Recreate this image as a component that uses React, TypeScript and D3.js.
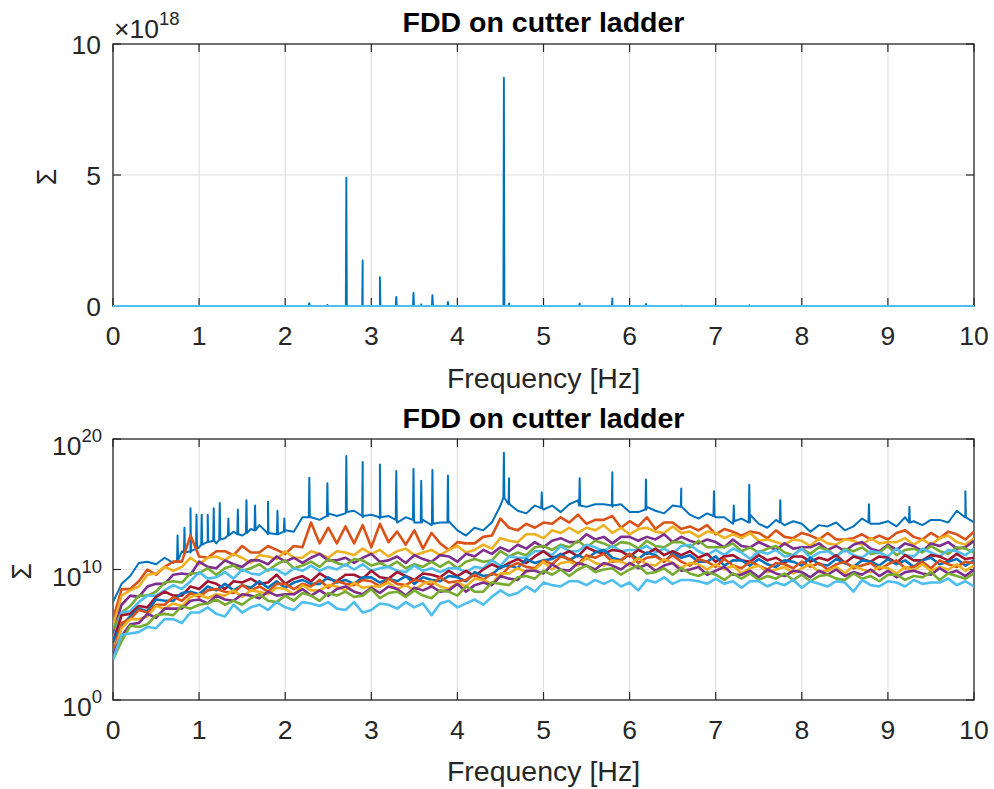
import React from "react";
import * as d3 from "d3";

// Frequency axis: values read every 0.1 Hz from 0 to 10 Hz
const freqStart = 0;
const freqStepHz = 0.1;
const xTicks = [0, 1, 2, 3, 4, 5, 6, 7, 8, 9, 10];
const topYTicks = [0, 5, 10]; // x 10^18
const botYTickExps = [0, 10, 20];

// log10 of singular values
const sv1 = [7.5,8.9,9.5,10.5,10.6,10.4,10.9,10.5,11.4,11.3, 11.7,12.2,12.0,12.4,12.9,12.6,13.1,13.4,12.7,12.7, 13.0,12.9,14.0,14.0,13.8,14.3,14.1,14.3,14.5,14.0, 14.2,13.9,14.1,13.6,14.0,13.6,13.8,13.4,13.6,13.7, 13.0,12.6,13.2,13.0,13.6,14.9,15.2,14.5,14.3,14.9, 14.6,14.9,14.4,15.0,15.3,14.8,15.0,15.0,14.8,15.0, 14.4,14.4,14.8,14.5,14.3,14.9,14.8,14.2,13.9,14.3, 14.0,14.0,13.5,13.9,14.2,13.5,13.2,13.8,13.4,13.7, 13.5,12.9,13.4,13.3,13.6,13.0,13.3,13.9,13.5,13.5, 13.7,13.3,14.0,13.7,13.4,13.8,13.8,13.6,14.5,14.2,13.6];
const sv2 = [6.2,8.5,8.5,9.1,10.0,9.6,10.2,10.6,10.6,12.6, 11.0,10.9,11.4,11.4,11.1,11.8,11.3,11.3,11.8,11.5, 11.2,11.8,11.7,13.6,12.0,13.2,12.0,13.3,12.0,13.4, 11.7,13.5,12.1,12.9,11.9,13.0,11.6,12.8,12.0,11.5, 12.1,12.0,12.0,12.5,12.6,13.9,13.2,13.0,13.5,13.2, 13.6,13.5,14.0,13.6,14.2,13.5,13.8,13.8,14.1,13.2, 13.7,13.3,14.0,13.1,13.6,13.6,13.1,13.3,13.0,13.4, 12.7,13.1,12.9,12.6,12.9,12.8,12.4,13.0,12.5,12.4, 12.8,12.6,12.3,12.8,12.3,12.3,12.4,12.7,12.3,12.6, 12.3,12.8,13.0,12.5,12.3,12.8,12.4,12.9,12.7,12.3,12.9];
const sv3 = [5.7,8.0,8.4,8.7,9.6,9.7,10.2,9.9,10.2,10.9, 10.4,10.9,11.0,10.7,11.2,10.9,10.5,11.1,11.0,10.8, 11.4,10.9,10.9,11.4,11.2,10.9,11.4,11.3,11.1,11.6, 11.2,11.5,11.0,11.4,11.6,11.1,11.3,11.5,11.1,11.5, 11.8,11.3,11.5,11.9,11.6,12.4,12.2,12.1,12.7,12.7, 12.4,13.0,12.8,13.2,12.8,13.2,13.0,13.4,12.8,13.2, 12.7,13.1,13.2,12.9,12.8,13.3,12.8,12.9,12.5,12.9, 12.8,12.4,12.7,12.4,12.8,12.2,12.3,12.1,11.9,12.3, 12.2,11.8,12.4,12.0,11.9,12.3,12.2,11.9,12.4,12.0, 12.1,12.1,12.4,11.9,12.3,11.9,12.4,12.6,12.1,11.9,12.4];
const sv4 = [5.1,7.3,8.0,7.9,8.7,8.9,8.9,9.6,9.7,9.6, 10.6,10.2,10.1,10.7,10.4,10.2,10.7,10.7,10.4,11.0, 10.6,10.9,10.5,10.9,11.2,10.7,10.7,10.9,10.5,10.9, 11.2,10.6,10.7,11.0,10.5,11.1,10.8,10.6,11.1,11.0, 10.6,11.2,11.0,11.5,11.2,11.7,11.4,11.9,11.6,12.1, 11.7,12.2,12.4,12.1,12.1,12.7,12.3,12.5,12.0,12.5, 12.5,12.2,12.5,12.3,12.7,12.1,12.5,12.2,12.0,12.3, 12.1,11.7,12.3,11.8,11.7,12.1,11.8,11.5,12.0,11.6, 11.7,11.7,12.0,11.5,11.8,11.4,11.9,12.1,11.6,11.4, 11.9,11.5,12.0,11.8,11.4,12.0,11.8,12.1,11.6,11.7,12.2];
const sv5 = [5.4,6.7,7.2,8.0,8.0,8.3,9.0,9.1,9.0,9.7, 9.7,10.1,9.6,10.1,10.3,9.9,10.1,10.4,9.9,10.4, 10.7,10.1,10.3,10.6,10.2,10.8,10.5,10.3,10.8,10.7, 10.3,10.5,10.2,10.6,10.1,10.4,10.2,10.6,10.2,10.6, 10.1,10.6,10.8,10.6,10.7,11.4,11.0,11.3,11.1,11.7, 11.8,11.5,11.9,11.7,12.2,11.7,12.2,12.0,11.7,12.1, 12.0,11.6,12.2,11.8,11.7,12.1,12.1,11.7,12.2,11.7, 11.7,11.7,12.0,11.4,11.7,11.3,11.6,11.8,11.3,11.1, 11.6,11.2,11.7,11.5,11.0,11.6,11.4,11.7,11.2,11.3, 11.8,11.1,11.5,11.6,11.3,11.8,11.4,11.2,11.7,11.6,11.3];
const sv6 = [4.6,6.7,6.8,7.5,8.0,8.0,8.4,8.8,8.5,9.1, 9.8,9.3,9.4,9.8,9.3,10.0,9.7,9.6,10.0,10.0, 9.6,10.1,9.9,10.3,9.9,10.2,10.0,10.4,10.0,10.4, 9.9,10.1,10.2,9.9,9.8,10.3,9.9,10.1,9.8,10.1, 10.1,9.8,10.2,10.1,10.7,10.3,11.0,10.9,10.9,11.4, 11.4,11.1,11.8,11.4,11.4,11.9,11.7,11.4,11.8,11.4, 11.5,11.5,11.8,11.3,11.6,11.2,11.8,11.9,11.4,11.1, 11.5,11.1,11.6,11.3,10.8,11.4,11.2,11.5,11.0,11.1, 11.6,10.9,11.3,11.4,11.0,11.5,11.1,10.9,11.4,11.3, 11.0,11.6,11.1,11.0,11.6,11.3,11.0,11.5,11.4,11.1,11.6];
const sv7 = [4.4,6.5,6.6,7.2,7.1,7.9,8.3,8.0,8.0,8.7, 8.5,9.1,8.9,8.5,9.1,9.0,9.3,8.9,9.0,9.6, 8.9,9.3,9.5,9.1,9.7,9.3,9.1,9.6,9.6,9.3, 9.9,9.4,9.3,9.8,9.5,9.2,9.7,9.6,9.4,9.9, 9.5,9.9,9.5,10.0,10.4,10.1,10.5,10.8,10.5,11.0, 11.4,10.9,11.1,11.4,11.0,11.7,11.4,11.2,11.5,11.4, 11.0,11.5,11.2,11.6,11.1,11.4,11.1,11.4,10.9,11.2, 10.6,11.0,11.1,10.7,10.6,11.1,10.7,10.9,10.5,11.0, 11.0,10.6,10.9,10.7,11.1,10.5,11.0,10.8,10.6,11.0, 10.9,10.5,11.1,10.7,10.7,11.1,11.0,10.7,11.2,10.8,10.9];
const sv8 = [4.5,5.7,6.4,7.0,6.8,7.7,7.6,7.6,8.2,8.3, 8.1,8.7,8.4,8.9,8.4,8.8,8.6,9.1,8.6,9.1, 8.6,9.0,9.2,8.9,8.9,9.4,9.0,9.2,8.9,9.4, 9.4,9.0,9.3,9.1,9.5,8.9,9.4,9.2,9.1,9.5, 9.4,9.1,9.8,9.5,9.6,10.2,10.3,10.1,10.8,10.5, 10.7,10.8,11.2,10.7,11.1,10.8,11.3,11.5,10.9,10.7, 11.2,10.8,11.3,11.1,10.6,11.2,10.9,11.1,10.6,10.6, 11.0,10.3,10.7,10.7,10.3,10.8,10.4,10.2,10.7,10.6, 10.3,10.9,10.4,10.3,10.8,10.5,10.2,10.7,10.6,10.3, 10.8,10.4,10.7,10.2,10.7,10.9,10.4,10.6,10.8,10.3,10.7];
const sv9 = [3.6,5.9,6.2,6.9,6.7,7.3,7.3,7.9,7.6,8.2, 7.9,8.4,8.5,8.3,8.2,8.8,8.4,8.7,8.3,8.9, 8.9,8.5,8.9,8.7,9.2,8.6,9.1,8.9,8.8,9.2, 9.1,8.7,9.3,8.9,8.8,9.2,9.1,8.8,9.4,9.0, 9.1,9.2,9.6,9.2,9.7,9.5,10.2,10.5,10.2,10.1, 10.7,10.4,11.0,10.8,10.4,11.1,10.9,11.2,10.6,10.7, 11.2,10.5,10.9,11.0,10.6,11.1,10.6,10.3,10.8,10.6, 10.2,10.8,10.3,10.1,10.6,10.3,10.0,10.5,10.4,10.1, 10.6,10.2,10.5,10.0,10.4,10.6,10.1,10.3,10.5,10.0, 10.4,10.7,10.1,10.2,10.6,10.1,10.7,10.4,10.2,10.6,10.5];
const sv10 = [3.3,5.5,6.2,6.2,6.4,7.2,7.0,7.4,7.2,7.9, 8.1,7.8,8.1,8.0,8.4,7.9,8.4,8.3,8.1,8.6, 8.5,8.1,8.8,8.4,8.4,8.8,8.7,8.4,9.0,8.6, 8.7,8.7,9.0,8.5,8.8,8.4,8.9,9.1,8.7,8.5, 9.0,8.7,9.3,9.2,8.9,9.7,9.7,10.1,9.8,10.0, 10.6,10.0,10.5,10.6,10.3,10.9,10.5,10.3,10.7,10.6, 10.3,10.9,10.4,10.3,10.8,10.5,10.1,10.5,10.4,10.0, 10.4,10.0,10.3,9.7,10.1,10.3,9.8,10.0,10.2,9.7, 10.1,10.4,9.8,9.9,10.2,9.7,10.3,10.0,9.8,10.2, 10.1,9.7,10.2,9.9,10.4,9.9,10.2,10.0,10.4,9.9,10.3];
const sv11 = [3.5,4.9,5.8,5.9,6.6,6.3,7.0,7.0,7.0,7.6, 7.7,7.4,8.0,7.7,7.6,8.1,8.0,7.8,8.3,8.0, 8.1,8.1,8.5,8.0,8.4,8.0,8.5,8.7,8.3,8.1, 8.6,8.2,8.7,8.5,8.0,8.6,8.4,8.7,8.3,8.4, 8.9,8.3,8.8,9.0,8.8,9.5,9.3,9.2,9.9,9.9, 9.7,10.4,10.0,9.9,10.5,10.3,10.0,10.5,10.3,10.0, 10.5,10.1,10.4,9.9,10.3,10.5,9.9,10.0,10.2,9.6, 9.9,10.2,9.6,9.6,9.9,9.4,10.0,9.7,9.5,9.9, 9.8,9.4,9.9,9.6,10.0,9.5,9.8,9.6,10.0,9.5, 9.9,9.4,9.8,9.9,9.7,9.6,10.1,9.7,9.9,9.5,10.0];
const sv12 = [3.1,4.5,5.7,5.6,5.8,6.5,6.6,6.5,7.2,7.0, 7.3,7.4,7.7,7.3,7.6,7.3,7.8,8.1,7.6,7.5, 8.0,7.6,8.2,8.0,7.6,8.2,8.0,8.3,7.9,8.0, 8.5,7.8,8.2,8.3,7.9,8.4,8.0,7.8,8.4,8.3, 8.0,8.7,8.3,8.3,9.0,8.9,8.8,9.4,9.5,9.3, 9.9,9.6,10.0,9.5,10.0,10.3,9.8,10.0,10.1,9.6, 10.0,10.3,9.7,9.8,10.1,9.6,10.1,9.7,9.5,9.8, 9.6,9.2,9.7,9.3,9.7,9.2,9.5,9.3,9.7,9.2, 9.6,9.1,9.5,9.6,9.3,9.2,9.7,9.3,9.5,9.1, 9.6,9.6,9.2,9.5,9.4,9.8,9.2,9.7,9.5,9.3,9.7];
const sv13 = [3.1,5.0,5.1,5.2,5.6,5.5,6.2,6.2,5.9,6.7, 6.7,7.1,6.6,6.4,7.3,6.7,7.1,7.3,6.9,7.5, 7.1,6.9,7.5,7.4,7.2,7.5,7.0,6.9,7.5,6.7, 6.9,7.4,7.3,7.0,7.5,7.1,7.4,6.5,7.4,7.6, 7.1,7.4,7.7,7.3,7.9,8.4,8.0,8.2,8.7,8.3, 9.0,8.8,8.7,9.1,9.1,8.8,9.2,8.9,9.2,8.7, 9.0,8.4,9.2,9.0,9.4,8.9,9.2,9.2,9.1,8.9, 9.3,8.9,9.1,8.6,9.1,9.1,8.7,9.0,8.8,9.2, 8.6,9.1,8.9,8.7,9.1,9.0,8.3,9.2,8.8,8.7, 9.1,9.0,8.7,9.2,8.9,9.0,9.0,9.3,8.8,9.1,8.7];

// Sharp peaks of the first singular value: frequency, log10 peak, log10 floor beside it
const peakFreqs = [0.75,0.83,0.90,0.97,1.03,1.10,1.17,1.24,1.34,1.45,1.55,1.65,1.80,1.91,1.99,2.28,2.49,2.71,2.90,3.10,3.29,3.49,3.58,3.71,3.89,4.54,4.60,4.98,5.42,5.80,6.19,6.60,6.98,7.21,7.39,7.75,8.78,9.25,9.90];
const peakLogs = [12.6,13.2,14.7,14.2,14.2,14.2,14.7,15.1,13.9,14.6,15.3,14.9,15.2,14.5,13.9,17.04,16.6,18.69,18.24,18.04,17.54,17.70,16.8,17.62,17.2,18.94,17.0,15.9,17.0,17.46,16.9,16.2,16.0,14.9,16.5,15.3,15.0,14.8,16.0];
const peakFloors = [10.7,11.3,11.4,11.6,11.9,12.1,12.2,12.3,12.6,12.7,12.8,13.0,12.8,12.7,12.9,14.0,14.1,14.4,14.1,14.0,13.8,13.8,13.6,13.5,13.6,15.5,15.0,14.7,14.9,14.9,14.6,14.8,14.1,13.7,13.6,13.6,13.6,13.6,14.0];
const peakHalfWidthHz = 0.006;

const seriesLogs = [sv1, sv2, sv3, sv4, sv5, sv6, sv7, sv8, sv9, sv10, sv11, sv12, sv13];
const colorOrder = ["#0072BD", "#D95319", "#EDB120", "#7E2F8E", "#77AC30", "#4DBEEE", "#A2142F"];

const titleText = "FDD on cutter ladder";
const xLabelText = "Frequency [Hz]";
const yLabelText = "Σ";

type Pt = { f: number; v: number };

function buildSeries(): Pt[][] {
  return seriesLogs.map((arr, k) => {
    const pts: Pt[] = arr.map((v, i) => ({ f: freqStart + i * freqStepHz, v }));
    if (k === 0) {
      peakFreqs.forEach((f, j) => {
        pts.push({ f: f - peakHalfWidthHz, v: peakFloors[j] });
        pts.push({ f, v: peakLogs[j] });
        pts.push({ f: f + peakHalfWidthHz, v: peakFloors[j] });
      });
      pts.sort((a, b) => a.f - b.f);
    }
    return pts;
  });
}

const FONT = "'Liberation Sans', Arial, Helvetica, sans-serif";
const AX = "#262626";
const GRID = "#e0e0e0";

export default function App() {
  const series = buildSeries();
  const left = 113, right = 974;
  const top1 = 44, bot1 = 306;
  const top2 = 439, bot2 = 700;
  const x = d3.scaleLinear().domain([0, 10]).range([left, right]);
  const y1 = d3.scaleLinear().domain([0, 10]).range([bot1, top1]);
  const y2 = d3.scaleLog().domain([1, 1e20]).range([bot2, top2]);

  const line1 = d3.line<Pt>().x(d => x(d.f)).y(d => y1(Math.pow(10, d.v - 18)));
  const line2 = d3.line<Pt>().x(d => x(d.f)).y(d => y2(Math.pow(10, d.v)));

  const tickLen = 8;
  const tickFs = 26.5;
  const supFs = 18.5;
  const labelFs = 28.5;
  const titleFs = 28.5;
  const cx = (left + right) / 2;

  const frame = (t: number, b: number, yTickPos: number[]) => (
    <g>
      {xTicks.map(v => (
        <g key={"xt" + v}>
          <line x1={x(v)} x2={x(v)} y1={b} y2={b - tickLen} stroke={AX} strokeWidth={1.2} />
          <line x1={x(v)} x2={x(v)} y1={t} y2={t + tickLen} stroke={AX} strokeWidth={1.2} />
        </g>
      ))}
      {yTickPos.map(p => (
        <g key={"yt" + p}>
          <line x1={left} x2={left + tickLen} y1={p} y2={p} stroke={AX} strokeWidth={1.2} />
          <line x1={right} x2={right - tickLen} y1={p} y2={p} stroke={AX} strokeWidth={1.2} />
        </g>
      ))}
      <rect x={left} y={t} width={right - left} height={b - t} fill="none" stroke={AX} strokeWidth={1.3} />
    </g>
  );

  const grid = (t: number, b: number, yTickPos: number[]) => (
    <g>
      {xTicks.slice(1, -1).map(v => (
        <line key={"gx" + v} x1={x(v)} x2={x(v)} y1={t} y2={b} stroke={GRID} strokeWidth={1.2} />
      ))}
      {yTickPos.map(p => (
        <line key={"gy" + p} x1={left} x2={right} y1={p} y2={p} stroke={GRID} strokeWidth={1.2} />
      ))}
    </g>
  );

  const xTickLabels = (b: number) =>
    xTicks.map(v => (
      <text key={"xl" + v} x={x(v)} y={b + 39} textAnchor="middle" fontSize={tickFs} fill={AX} fontFamily={FONT}>
        {v}
      </text>
    ));

  const top1Ticks = topYTicks.map(v => y1(v));
  const top2Ticks = botYTickExps.map(e => y2(Math.pow(10, e)));

  return (
    <svg width={994} height={789} style={{ position: "absolute", left: 0, top: 0, background: "#fff" }}>
      <rect x={0} y={0} width={994} height={789} fill="#fff" />
      <defs>
        <clipPath id="c1"><rect x={left} y={top1} width={right - left} height={bot1 - top1 + 2} /></clipPath>
        <clipPath id="c2"><rect x={left} y={top2} width={right - left} height={bot2 - top2} /></clipPath>
      </defs>

      {/* ---------- top axes (axes layer below data) ---------- */}
      {grid(top1, bot1, [y1(5)])}
      {frame(top1, bot1, top1Ticks)}
      <g clipPath="url(#c1)">
        {series.map((s, k) => (
          <path key={"a" + k} d={line1(s) || ""} fill="none" stroke={colorOrder[k % 7]} strokeWidth={1.9} strokeLinejoin="round" />
        ))}
      </g>
      {topYTicks.map(v => (
        <text key={"yl1" + v} x={left - 12} y={y1(v) + 9.5} textAnchor="end" fontSize={tickFs} fill={AX} fontFamily={FONT}>
          {v}
        </text>
      ))}
      <text x={left + 1} y={38} fontSize={tickFs} fill={AX} fontFamily={FONT}>
        ×10<tspan dy={-13} fontSize={supFs}>18</tspan>
      </text>
      {xTickLabels(bot1)}
      <text x={cx} y={388} textAnchor="middle" fontSize={labelFs} fill={AX} fontFamily={FONT}>{xLabelText}</text>
      <text x={cx} y={32} textAnchor="middle" fontSize={titleFs} fontWeight="bold" fill="#000" fontFamily={FONT}>{titleText}</text>
      <text transform={`translate(56,${(top1 + bot1) / 2 + 2}) rotate(-90)`} textAnchor="middle" fontSize={27} fill={AX} fontFamily={FONT}>{yLabelText}</text>

      {/* ---------- bottom axes ---------- */}
      {grid(top2, bot2, [y2(1e10)])}
      {frame(top2, bot2, top2Ticks)}
      <g clipPath="url(#c2)">
        {series.map((s, k) => (
          <path key={"b" + k} d={line2(s) || ""} fill="none" stroke={colorOrder[k % 7]} strokeWidth={k === 0 ? 2.0 : 2.6} strokeLinejoin="round" />
        ))}
      </g>
      {botYTickExps.map(e => (
        <text key={"yl2" + e} x={left - 11} y={y2(Math.pow(10, e)) + 16} textAnchor="end" fontSize={tickFs} fill={AX} fontFamily={FONT}>
          10<tspan dy={-13} fontSize={supFs}>{e}</tspan>
        </text>
      ))}
      {xTickLabels(bot2)}
      <text x={cx} y={781} textAnchor="middle" fontSize={labelFs} fill={AX} fontFamily={FONT}>{xLabelText}</text>
      <text x={cx} y={428} textAnchor="middle" fontSize={titleFs} fontWeight="bold" fill="#000" fontFamily={FONT}>{titleText}</text>
      <text transform={`translate(31,${y2(1e10) + 2}) rotate(-90)`} textAnchor="middle" fontSize={27} fill={AX} fontFamily={FONT}>{yLabelText}</text>
    </svg>
  );
}
